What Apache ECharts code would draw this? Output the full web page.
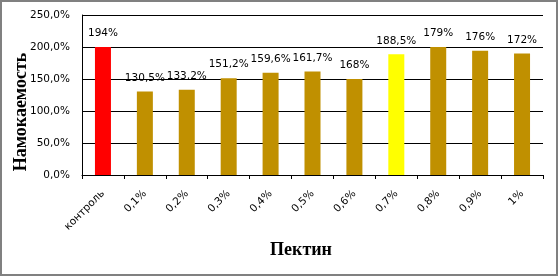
<!DOCTYPE html>
<html><head><meta charset="utf-8">
<script src="https://cdn.jsdelivr.net/npm/echarts@6/dist/echarts.min.js"></script>
<style>html,body{margin:0;padding:0;background:#fff}#c{width:559px;height:278px}</style>
</head><body><div id="c"></div>
<script>
var categories = ['контроль','0,1%','0,2%','0,3%','0,4%','0,5%','0,6%','0,7%','0,8%','0,9%','1%'];
var values = [200, 130.5, 133.2, 151.2, 159.6, 161.7, 150, 188.5, 200, 194, 190];
var valueLabels = ['194%','130,5%','133,2%','151,2%','159,6%','161,7%','168%','188,5%','179%','176%','172%'];
var barColors = ['#FF0000','#C09000','#C09000','#C09000','#C09000','#C09000','#C09000','#FFFF00','#C09000','#C09000','#C09000'];
var yTicks = [0, 50, 100, 150, 200, 250];
var xTitle = 'Пектин';
var yTitle = 'Намокаемость';

var chart = echarts.init(document.getElementById('c'), null, {renderer:'canvas'});
chart.setOption({
  animation:false,
  graphic:[
    {type:'rect', shape:{x:1,y:1,width:556,height:274}, style:{fill:'none', stroke:'#808080', lineWidth:2}, silent:true},
    {type:'text', x:21, y:112, rotation:Math.PI/2, style:{text:yTitle, fontFamily:'Liberation Serif', fontWeight:'bold', fontSize:18, fill:'#000', align:'center', verticalAlign:'middle'}},
    {type:'text', x:301, y:250, style:{text:xTitle, fontFamily:'Liberation Serif', fontWeight:'bold', fontSize:18, fill:'#000', align:'center', verticalAlign:'middle'}}
  ],
  grid:{left:82, right:16, top:15, bottom:103},
  xAxis:{
    type:'category', data:categories,
    axisLine:{lineStyle:{color:'#000', width:1}},
    axisTick:{show:true, length:4, lineStyle:{color:'#000'}, alignWithLabel:false},
    axisLabel:{rotate:45, fontFamily:'DejaVu Sans', fontSize:10.5, color:'#000', margin:17}
  },
  yAxis:{
    type:'value', min:0, max:250, interval:50,
    axisLine:{show:true, lineStyle:{color:'#000', width:1}},
    axisTick:{show:false},
    splitLine:{lineStyle:{color:'#000', width:1}},
    axisLabel:{fontFamily:'DejaVu Sans', fontSize:10.5, color:'#000', margin:12, padding:[4,0,0,0],
      formatter:function(v){ return yTicks.indexOf(v) >= 0 ? v.toFixed(1).replace('.',',') + '%' : ''; }}
  },
  series:[{
    type:'bar', barWidth:16,
    data:values.map(function(v,i){ return {value:v, itemStyle:{color:barColors[i]}}; }),
    label:{show:true, position:'top', distance:8, fontFamily:'DejaVu Sans', fontSize:10.5, color:'#000',
      formatter:function(p){ return valueLabels[p.dataIndex]; }}
  }]
});
</script></body></html>
